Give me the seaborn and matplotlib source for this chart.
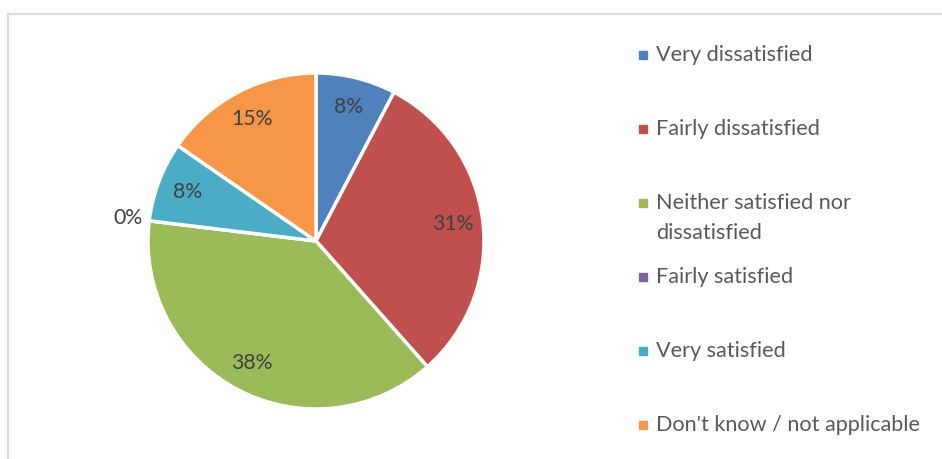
import numpy as np
import matplotlib
matplotlib.use("Agg")
import matplotlib.pyplot as plt
from matplotlib.patches import Rectangle
from matplotlib.lines import Line2D
import seaborn as sns

# Survey responses (counts) and their categories
categories = [
    "Very dissatisfied",
    "Fairly dissatisfied",
    "Neither satisfied nor\ndissatisfied",
    "Fairly satisfied",
    "Very satisfied",
    "Don't know / not applicable",
]
counts = [1, 4, 5, 0, 1, 2]
colors = ["#4F81BD", "#C0504D", "#9BBB59", "#8064A2", "#4BACC6", "#F79646"]

sns.set_theme(style="white")
plt.rcParams["font.family"] = ["Lato", "DejaVu Sans"]
palette = sns.color_palette(colors)

W, H = 942, 459
fig = plt.figure(figsize=(W / 100, H / 100), dpi=100)
fig.patch.set_facecolor("white")

# chart-area frame (left and top edges visible)
fig.add_artist(Line2D([8 / W, 8 / W], [0, 1 - 14 / H], transform=fig.transFigure,
                      color="#D9D9D9", lw=1.5))
fig.add_artist(Line2D([8 / W, 1], [1 - 14 / H, 1 - 14 / H], transform=fig.transFigure,
                      color="#D9D9D9", lw=1.5))

cx, cy, R = 316, 241, 168
ax = fig.add_axes([(cx - R) / W, (H - cy - R) / H, 2 * R / W, 2 * R / H])
wedges, _ = ax.pie(counts, colors=palette, startangle=90, counterclock=False,
                   radius=1.0, wedgeprops=dict(edgecolor="white", linewidth=2.5))
ax.set_xlim(-1, 1)
ax.set_ylim(-1, 1)
ax.set_aspect("equal")
ax.axis("off")

total = sum(counts)
for w, c in zip(wedges, counts):
    ang = np.deg2rad((w.theta1 + w.theta2) / 2)
    dist = 0.82 if c > 0 else 1.13
    ax.text(dist * np.cos(ang), dist * np.sin(ang), f"{round(100 * c / total)}%",
            ha="center", va="center", fontsize=15.3, color="#404040")

# legend entries
ys = [55, 129, 203, 277, 351, 425]
for lab, col, y in zip(categories, palette, ys):
    fig.add_artist(Rectangle((639 / W, 1 - (y + 4) / H), 8 / W, 8 / H,
                             transform=fig.transFigure, color=col))
    for k, line in enumerate(lab.split("\n")):
        fig.text(656 / W, 1 - (y + 30 * k) / H, line, ha="left", va="center",
                 fontsize=15.6, color="#595959", transform=fig.transFigure)

fig.savefig("out.png", dpi=100)
